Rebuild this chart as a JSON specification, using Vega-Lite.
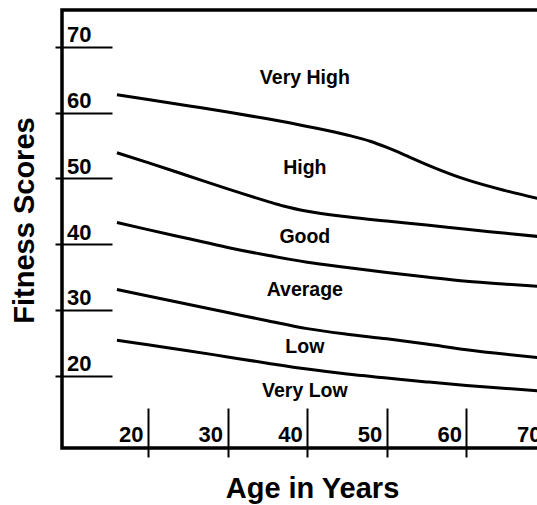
{
  "$schema": "https://vega.github.io/schema/vega-lite/v6.json",
  "width": 500,
  "height": 438,
  "autosize": {"type": "none"},
  "padding": {"left": 62, "top": 10, "right": -25, "bottom": 57},
  "background": "white",
  "config": {
    "view": {"stroke": "black", "strokeWidth": 3.5},
    "font": "Liberation Sans"
  },
  "datasets": {
    "curves": [
      {"boundary": "c1", "age": 16.1, "score": 62.7},
      {"boundary": "c1", "age": 20, "score": 62.0},
      {"boundary": "c1", "age": 25, "score": 61.05},
      {"boundary": "c1", "age": 30, "score": 60.1},
      {"boundary": "c1", "age": 35, "score": 59.05},
      {"boundary": "c1", "age": 40, "score": 57.9},
      {"boundary": "c1", "age": 45, "score": 56.6},
      {"boundary": "c1", "age": 48, "score": 55.6},
      {"boundary": "c1", "age": 50, "score": 54.7},
      {"boundary": "c1", "age": 52, "score": 53.7},
      {"boundary": "c1", "age": 55, "score": 52.1},
      {"boundary": "c1", "age": 60, "score": 49.8},
      {"boundary": "c1", "age": 65, "score": 48.1},
      {"boundary": "c1", "age": 69.5, "score": 46.8},
      {"boundary": "c2", "age": 16.1, "score": 53.9},
      {"boundary": "c2", "age": 20, "score": 52.4},
      {"boundary": "c2", "age": 25, "score": 50.4},
      {"boundary": "c2", "age": 30, "score": 48.4},
      {"boundary": "c2", "age": 35, "score": 46.5},
      {"boundary": "c2", "age": 37, "score": 45.8},
      {"boundary": "c2", "age": 40, "score": 45.0},
      {"boundary": "c2", "age": 45, "score": 44.15},
      {"boundary": "c2", "age": 50, "score": 43.5},
      {"boundary": "c2", "age": 55, "score": 42.9},
      {"boundary": "c2", "age": 60, "score": 42.25},
      {"boundary": "c2", "age": 65, "score": 41.65},
      {"boundary": "c2", "age": 69.5, "score": 41.1},
      {"boundary": "c3", "age": 16.1, "score": 43.3},
      {"boundary": "c3", "age": 20, "score": 42.2},
      {"boundary": "c3", "age": 25, "score": 40.85},
      {"boundary": "c3", "age": 30, "score": 39.5},
      {"boundary": "c3", "age": 35, "score": 38.3},
      {"boundary": "c3", "age": 40, "score": 37.25},
      {"boundary": "c3", "age": 45, "score": 36.45},
      {"boundary": "c3", "age": 50, "score": 35.7},
      {"boundary": "c3", "age": 55, "score": 35.0},
      {"boundary": "c3", "age": 60, "score": 34.35},
      {"boundary": "c3", "age": 65, "score": 33.9},
      {"boundary": "c3", "age": 69.5, "score": 33.55},
      {"boundary": "c4", "age": 16.1, "score": 33.1},
      {"boundary": "c4", "age": 20, "score": 32.1},
      {"boundary": "c4", "age": 25, "score": 30.85},
      {"boundary": "c4", "age": 30, "score": 29.6},
      {"boundary": "c4", "age": 35, "score": 28.35},
      {"boundary": "c4", "age": 40, "score": 27.15},
      {"boundary": "c4", "age": 45, "score": 26.3},
      {"boundary": "c4", "age": 50, "score": 25.6},
      {"boundary": "c4", "age": 55, "score": 24.8},
      {"boundary": "c4", "age": 60, "score": 23.95},
      {"boundary": "c4", "age": 65, "score": 23.25},
      {"boundary": "c4", "age": 69.5, "score": 22.7},
      {"boundary": "c5", "age": 16.1, "score": 25.4},
      {"boundary": "c5", "age": 20, "score": 24.7},
      {"boundary": "c5", "age": 25, "score": 23.8},
      {"boundary": "c5", "age": 30, "score": 22.85},
      {"boundary": "c5", "age": 35, "score": 21.9},
      {"boundary": "c5", "age": 40, "score": 21.0},
      {"boundary": "c5", "age": 45, "score": 20.25},
      {"boundary": "c5", "age": 50, "score": 19.65},
      {"boundary": "c5", "age": 55, "score": 19.05},
      {"boundary": "c5", "age": 60, "score": 18.5},
      {"boundary": "c5", "age": 65, "score": 18.05},
      {"boundary": "c5", "age": 69.5, "score": 17.65}
    ],
    "labels": [
      {"label": "Very High", "age": 39.7, "score": 65.3},
      {"label": "High", "age": 39.7, "score": 51.6},
      {"label": "Good", "age": 39.7, "score": 41.1},
      {"label": "Average", "age": 39.7, "score": 33.0},
      {"label": "Low", "age": 39.7, "score": 24.4},
      {"label": "Very Low", "age": 39.7, "score": 17.7}
    ]
  },
  "layer": [
    {
      "data": {"name": "curves"},
      "mark": {"type": "line", "interpolate": "monotone", "stroke": "black", "strokeWidth": 3},
      "encoding": {
        "x": {
          "field": "age", "type": "quantitative",
          "scale": {"domain": [9.2, 72], "nice": false, "zero": false},
          "axis": {
            "values": [20, 30, 40, 50, 60, 70],
            "title": "Age in Years",
            "offset": -40,
            "domain": false,
            "grid": false,
            "tickSize": 49,
            "tickWidth": 2,
            "tickColor": "black",
            "labelAlign": "right",
            "labelOffset": -5,
            "labelBaseline": "alphabetic",
            "labelPadding": -16,
            "labelFontSize": 22,
            "labelFontWeight": "bold",
            "labelColor": "black",
            "labelFont": "Liberation Sans",
            "labelFlush": false,
            "labelOverlap": false,
            "titleFont": "Liberation Sans",
            "titleFontSize": 29,
            "titleFontWeight": "bold",
            "titleColor": "black",
            "titlePadding": 16
          }
        },
        "y": {
          "field": "score", "type": "quantitative",
          "scale": {"domain": [9, 75.6], "nice": false, "zero": false},
          "axis": {
            "values": [20, 30, 40, 50, 60, 70],
            "title": "Fitness Scores",
            "offset": -50,
            "domain": false,
            "grid": false,
            "tickSize": 57,
            "tickWidth": 2,
            "tickColor": "black",
            "labelAlign": "left",
            "labelBaseline": "alphabetic",
            "labelOffset": -5,
            "labelPadding": -11.5,
            "labelFontSize": 22,
            "labelFontWeight": "bold",
            "labelColor": "black",
            "labelFont": "Liberation Sans",
            "labelFlush": false,
            "labelOverlap": false,
            "titleFont": "Liberation Sans",
            "titleFontSize": 29,
            "titleFontWeight": "bold",
            "titleColor": "black",
            "titlePadding": 15,
            "titleY": 210
          }
        },
        "detail": {"field": "boundary"}
      }
    },
    {
      "data": {"name": "labels"},
      "mark": {"type": "text", "fontSize": 19.5, "fontWeight": "bold", "font": "Liberation Sans", "fill": "black", "align": "center", "baseline": "middle"},
      "encoding": {
        "x": {"field": "age", "type": "quantitative"},
        "y": {"field": "score", "type": "quantitative"},
        "text": {"field": "label"}
      }
    }
  ]
}
